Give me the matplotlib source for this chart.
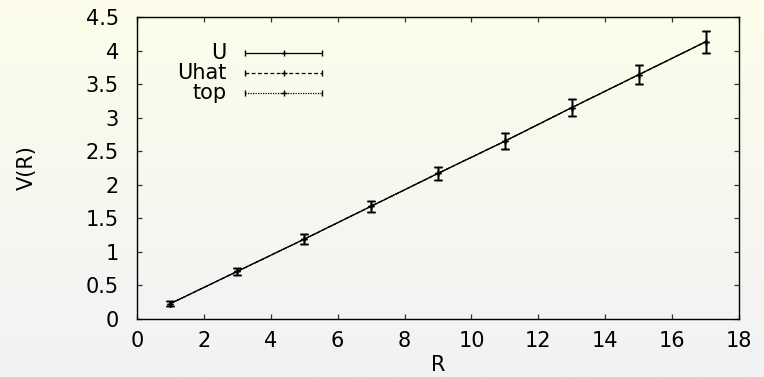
import numpy as np
import matplotlib
matplotlib.use("Agg")
import matplotlib.pyplot as plt

# potencial estatico V(R) com barras de erro
R = [1, 3, 5, 7, 9, 11, 13, 15, 17]
V = [0.23, 0.71, 1.19, 1.68, 2.17, 2.65, 3.15, 3.64, 4.13]
dV = [0.04, 0.05, 0.07, 0.08, 0.10, 0.12, 0.13, 0.14, 0.16]

series = ["U", "Uhat", "top"]
estilos = ["-", (0, (3, 2)), (0, (1, 1))]

xticks = [0, 2, 4, 6, 8, 10, 12, 14, 16, 18]
yticks = [0, 0.5, 1, 1.5, 2, 2.5, 3, 3.5, 4, 4.5]
yticklabels = ["0", "0.5", "1", "1.5", "2", "2.5", "3", "3.5", "4", "4.5"]

plt.rcParams["font.family"] = "DejaVu Sans"
plt.rcParams["font.size"] = 15

fig = plt.figure(figsize=(7.64, 3.77), dpi=100)

# fundo em degrade (amarelo claro em cima, cinza embaixo)
bg = fig.add_axes([0, 0, 1, 1], zorder=-1)
topo = np.array([253, 253, 234]) / 255
base = np.array([241, 242, 245]) / 255
t = np.linspace(0, 1, 256)[:, None, None]
grad = topo * (1 - t) + base * t
grad = np.repeat(grad, 2, axis=1)
bg.imshow(grad, aspect="auto", extent=[0, 1, 0, 1])
bg.axis("off")

ax = fig.add_axes([0.1793, 0.1538, 0.7880, 0.8011])
ax.set_facecolor("none")

# as tres series coincidem; a continua fica por cima
for nome, ls, z in zip(series[::-1], estilos[::-1], [2, 3, 4]):
    ax.errorbar(R, V, yerr=dV, color="black", linestyle=ls, linewidth=0.9,
                elinewidth=1.0, capsize=2.6, capthick=1.0,
                marker="+", markersize=5, markeredgewidth=1.0, zorder=z)

ax.set_xlim(0, 18)
ax.set_ylim(0, 4.5)
ax.set_xticks(xticks)
ax.set_yticks(yticks)
ax.set_yticklabels(yticklabels)
ax.tick_params(direction="in", length=3.5, width=0.9, top=True, right=True,
               colors="#333333", labelcolor="black")
ax.tick_params(axis="x", pad=8.5)
ax.tick_params(axis="y", pad=13)
for s in ax.spines.values():
    s.set_linewidth(1.0)
    s.set_color("black")

ax.set_xlabel("R")
ax.set_ylabel("V(R)")
ax.xaxis.set_label_coords(0.5, -0.118)
ax.yaxis.set_label_coords(-0.166, 0.5)

# legenda no estilo gnuplot: texto alinhado a direita, amostra com barras
for i, (nome, ls) in enumerate(zip(series, estilos)):
    y = 0.881 - 0.0665 * i
    ax.text(0.1495, y, nome, transform=ax.transAxes, ha="right", va="center")
    ax.plot([0.1794, 0.3073], [y, y], transform=ax.transAxes, color="black",
            linestyle=ls, linewidth=0.9, marker="|", markersize=5,
            markeredgewidth=1.0)
    ax.plot([0.2434], [y], transform=ax.transAxes, color="black",
            marker="+", markersize=5, markeredgewidth=1.0)

fig.savefig("out.png", dpi=100)
